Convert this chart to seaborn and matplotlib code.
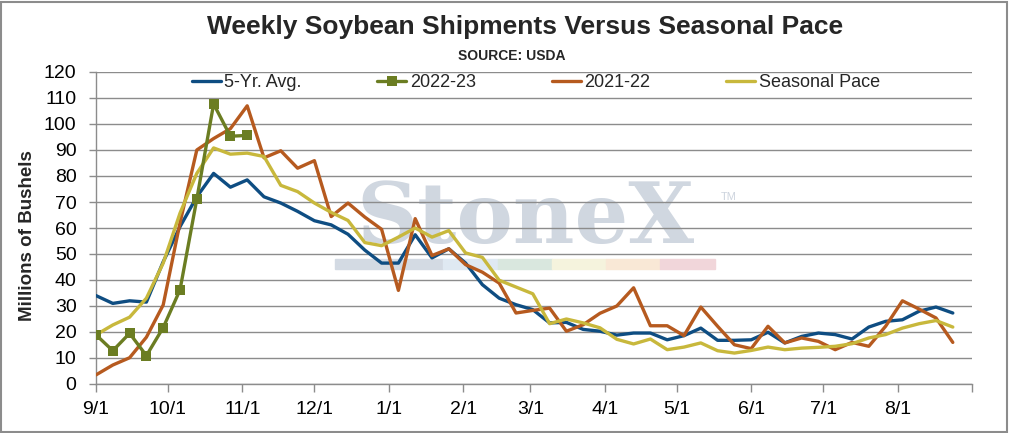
import numpy as np
import pandas as pd
import matplotlib
matplotlib.use("Agg")
import matplotlib.pyplot as plt
from matplotlib.patches import Rectangle
import seaborn as sns

# weekly values, week 0 = 9/1
avg_5yr = [34, 31, 32, 31.5, 47, 60.5, 72, 81, 75.7, 78.5, 72, 69.6, 66.4, 62.8, 61.2, 57.6,
           51.5, 46.5, 46.5, 57.4, 48.5, 52, 46.5, 38.2, 33, 30.5, 28.6, 23.5, 23.7, 21,
           20.3, 18.8, 19.6, 19.6, 17, 18.6, 21.5, 16.8, 16.8, 17, 19.9, 15.8, 18.3, 19.6,
           19, 17.3, 21.9, 24.1, 24.7, 28, 29.6, 27.3]
crop_2122 = [3.5, 7.3, 10.1, 18, 30.4, 62, 90, 94.4, 98.2, 107, 87, 89.7, 83, 85.9, 64.4, 69.6,
             64.2, 59.5, 36, 63.6, 49.4, 52, 45.9, 43, 38.8, 27.3, 28.3, 29.2, 20.3, 22.8,
             27.2, 30, 37, 22.4, 22.4, 18.6, 29.6, 22.2, 15.1, 13.6, 22.2, 15.8, 17.7, 16.4,
             13.2, 16, 14.5, 22.2, 32, 28.8, 25.4, 16]
crop_2223 = [18.9, 12.8, 19.5, 10.9, 21.7, 36.2, 71.1, 107.7, 95.3, 95.6]
seasonal = [18.9, 22.7, 25.7, 33, 46.5, 65.7, 81, 90.8, 88.4, 88.8, 87.5, 76.4, 74, 69.6, 66,
            62.9, 54.4, 53.2, 56.5, 60, 56.5, 59, 50.4, 48.7, 39.9, 37.3, 34.7, 23.2, 25,
            23.5, 21.6, 17.2, 15.4, 17.3, 13.2, 14.2, 15.8, 12.8, 11.9, 12.9, 14.2, 13.2,
            13.8, 14.1, 14.5, 15.5, 17.7, 19, 21.5, 23.2, 24.4, 21.9]

month_days = [0, 30, 61, 91, 122, 153, 181, 212, 242, 273, 303, 334, 365]
month_labels = ["9/1", "10/1", "11/1", "12/1", "1/1", "2/1", "3/1", "4/1", "5/1",
                "6/1", "7/1", "8/1", ""]

c_blue = "#0E4D82"
c_green = "#6B7D22"
c_orange = "#B65A1F"
c_yellow = "#C8B83C"

sns.set_theme(style="white")
plt.rcParams["font.family"] = ["Liberation Sans", "DejaVu Sans"]

fig = plt.figure(figsize=(10.09, 4.33), dpi=100)
ax = fig.add_axes([96 / 1009, 1 - 384 / 433, 876 / 1009, 312 / 433])


def frame(vals, name):
    return pd.DataFrame({"day": np.arange(len(vals)) * 7, "value": vals, "series": name})


df_avg = frame(avg_5yr, "5-Yr. Avg.")
df_2223 = frame(crop_2223, "2022-23")
df_2122 = frame(crop_2122, "2021-22")
df_seas = frame(seasonal, "Seasonal Pace")

# watermark, kept behind grid and lines
ax.text(525 / 1009, 1 - 243 / 433, "StoneX", family="DejaVu Serif", weight="bold", fontsize=61,
        color="#d0d7e0", ha="center", va="baseline", transform=fig.transFigure, zorder=0.1)
ax.text(721 / 1009, 1 - 197 / 433, "TM", fontsize=8, color="#cdd4de", ha="left", va="center",
        transform=fig.transFigure, zorder=0.1)
bar_cols = ["#d3dae3", "#dfe9f2", "#d9e7de", "#f5f3dd", "#f9e8d6", "#f1d6da"]
bar_x = [335, 443, 498, 552, 606, 660, 715]
for i, col in enumerate(bar_cols):
    ax.add_patch(Rectangle((bar_x[i] / 1009, 1 - 269 / 433), (bar_x[i + 1] - bar_x[i]) / 1009,
                           10 / 433, transform=fig.transFigure, color=col, zorder=0.1))

sns.lineplot(data=df_avg, x="day", y="value", ax=ax, color=c_blue, lw=2.4,
             label="5-Yr. Avg.", zorder=3)
sns.lineplot(data=df_2223, x="day", y="value", ax=ax, color=c_green, lw=2.4, marker="s",
             markersize=7, markeredgewidth=0, label="2022-23", zorder=6)
sns.lineplot(data=df_2122, x="day", y="value", ax=ax, color=c_orange, lw=2.4,
             label="2021-22", zorder=4)
sns.lineplot(data=df_seas, x="day", y="value", ax=ax, color=c_yellow, lw=2.4,
             label="Seasonal Pace", zorder=5)

ax.set_xlim(0, 365)
ax.set_ylim(0, 120)
ax.set_yticks(range(0, 121, 10))
ax.set_xticks(month_days)
ax.set_xticklabels(month_labels)
ax.set_xlabel("")
ax.set_ylabel("")
ax.yaxis.grid(True, color="#8c8c8c", lw=1, zorder=0.5)
ax.set_axisbelow(True)
for s in ["top", "right"]:
    ax.spines[s].set_visible(False)
for s in ["left", "bottom"]:
    ax.spines[s].set_color("#8c8c8c")
    ax.spines[s].set_linewidth(1)
ax.tick_params(axis="both", which="both", direction="out", color="#8c8c8c", labelsize=14,
               labelcolor="black")
ax.tick_params(axis="y", length=5, width=1, pad=9, left=True)
ax.tick_params(axis="x", length=6, width=1, pad=6, bottom=True)

ax.legend(loc="center", bbox_to_anchor=(0.502, 0.965), ncol=4, frameon=False, fontsize=13,
          handlelength=1.6, handletextpad=0.2, columnspacing=4.2, borderaxespad=0)

fig.text(525 / 1009, 1 - 27 / 433, "Weekly Soybean Shipments Versus Seasonal Pace",
         fontsize=19, weight="bold", ha="center", va="center")
fig.text(512 / 1009, 1 - 56 / 433, "SOURCE: USDA", fontsize=10, weight="bold",
         ha="center", va="center")
fig.text(28 / 1009, 1 - 236 / 433, "Millions of Bushels", fontsize=13.5, weight="bold",
         rotation=90, ha="center", va="center")

fig.patches.append(Rectangle((1 / 1009, 1 / 433), 1006 / 1009, 430 / 433, transform=fig.transFigure,
                             fill=False, edgecolor="#8c8c8c", lw=1.5))

fig.savefig("out.png", dpi=100)
